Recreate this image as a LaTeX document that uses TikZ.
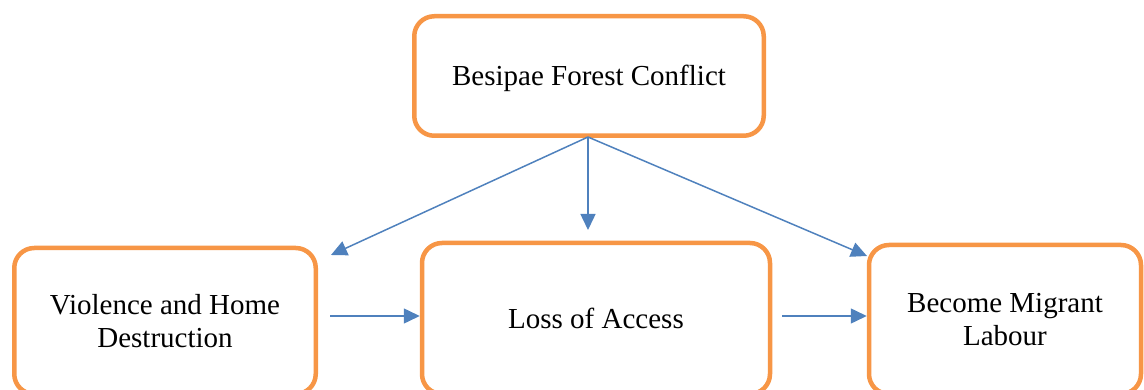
\documentclass[tikz,border=0pt]{standalone}
\usepackage{fontspec}
\setmainfont{Liberation Serif}
\usetikzlibrary{arrows.meta}
\definecolor{boxorange}{HTML}{F79646}
\definecolor{arrowblue}{HTML}{4F81BD}
\begin{document}
\begin{tikzpicture}[x=1pt,y=-1pt,
  box/.style={draw=boxorange,line width=4.5pt,rounded corners=20pt,fill=white,
    align=center,font=\fontsize{29}{33}\selectfont,inner sep=0pt},
  conn/.style={draw=arrowblue,line width=1.5pt,-{Triangle[length=16pt,width=15pt]}}]
\useasboundingbox (0,0) rectangle (1144,390);
\clip (0,0) rectangle (1144,390);
\node[box,minimum width=349.5pt,minimum height=119.5pt] (top) at (589,76) {\raisebox{-10pt}[0pt][0pt]{Besipae Forest Conflict}};
\node[box,minimum width=301.5pt,minimum height=146pt] (left) at (165,321) {Violence and Home\\Destruction};
\node[box,minimum width=348pt,minimum height=151pt] (mid) at (596,318.5) {Loss of Access};
\node[box,minimum width=272pt,minimum height=149pt] (right) at (1005,319.5) {Become Migrant\\Labour};
\coordinate (src) at (588,137);
\coordinate (tl) at (331,255);
\coordinate (tm) at (588,230);
\coordinate (tr) at (867,256);
\coordinate (h1) at (330,316);
\coordinate (h2) at (782,316);
\draw[conn] (src) -- (tl);
\draw[conn] (src) -- (tm);
\draw[conn] (src) -- (tr);
\draw[conn] (h1) -- (mid.west |- h1);
\draw[conn] (h2) -- (right.west |- h2);
\end{tikzpicture}
\end{document}
